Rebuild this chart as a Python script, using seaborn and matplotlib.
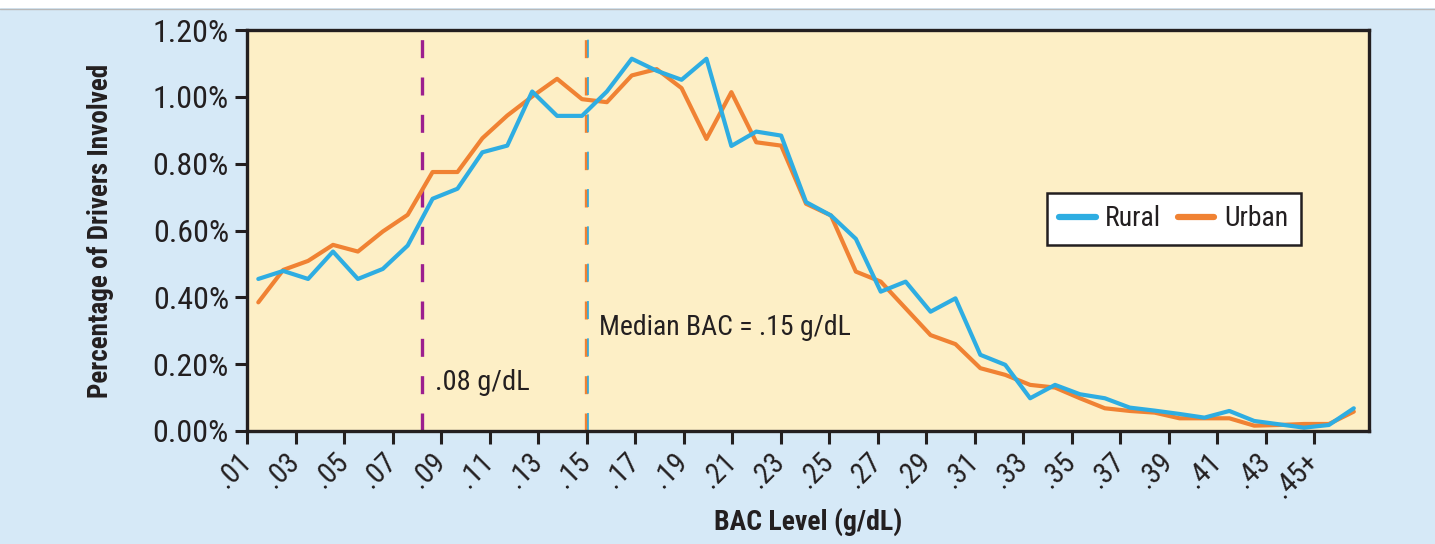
import numpy as np
import pandas as pd
import matplotlib
matplotlib.use("Agg")
import matplotlib.pyplot as plt
from matplotlib.patches import Rectangle
from matplotlib.lines import Line2D
from matplotlib.transforms import ScaledTranslation
from matplotlib import font_manager
import seaborn as sns

# ---- data (percent of drivers involved, by BAC level category) ----
bac_levels = [".01", ".02", ".03", ".04", ".05", ".06", ".07", ".08", ".09", ".10",
              ".11", ".12", ".13", ".14", ".15", ".16", ".17", ".18", ".19", ".20",
              ".21", ".22", ".23", ".24", ".25", ".26", ".27", ".28", ".29", ".30",
              ".31", ".32", ".33", ".34", ".35", ".36", ".37", ".38", ".39", ".40",
              ".41", ".42", ".43", ".44", ".45+"]
rural = [0.455, 0.479, 0.455, 0.537, 0.455, 0.485, 0.555, 0.695, 0.725, 0.834,
         0.854, 1.016, 0.943, 0.943, 1.016, 1.114, 1.078, 1.051, 1.114, 0.853,
         0.896, 0.884, 0.685, 0.645, 0.575, 0.417, 0.447, 0.357, 0.397, 0.228,
         0.198, 0.098, 0.138, 0.110, 0.098, 0.070, 0.061, 0.051, 0.040, 0.060,
         0.030, 0.020, 0.010, 0.018, 0.068]
urban = [0.385, 0.482, 0.509, 0.557, 0.537, 0.597, 0.647, 0.775, 0.775, 0.876,
         0.944, 1.001, 1.054, 0.993, 0.984, 1.064, 1.083, 1.026, 0.874, 1.014,
         0.864, 0.854, 0.680, 0.645, 0.477, 0.447, 0.367, 0.287, 0.260, 0.188,
         0.168, 0.138, 0.130, 0.098, 0.068, 0.060, 0.055, 0.038, 0.038, 0.038,
         0.016, 0.018, 0.021, 0.021, 0.058]
tick_labels = [".01", ".03", ".05", ".07", ".09", ".11", ".13", ".15", ".17", ".19",
               ".21", ".23", ".25", ".27", ".29", ".31", ".33", ".35", ".37", ".39",
               ".41", ".43", ".45+"]
y_ticks = [0.0, 0.2, 0.4, 0.6, 0.8, 1.0, 1.2]
legal_limit = 0.08
median_bac = 0.15

# ---- styling ----
FIG_BG = "#d6e9f7"
PLOT_BG = "#fdefc6"
C_RURAL = "#2eade2"
C_URBAN = "#f08233"
C_LIMIT = "#9c1f8f"
TXT = "#231f20"

sns.set_theme(style="white")
installed = {f.name for f in font_manager.fontManager.ttflist}
chain = [f for f in ["Liberation Sans Narrow", "DejaVu Sans Condensed",
                     "Roboto Condensed", "Liberation Sans"] if f in installed]
narrow = chain[0] if chain else "DejaVu Sans"
plt.rcParams["font.family"] = [narrow, "DejaVu Sans"]

df = pd.DataFrame({
    "idx": list(range(len(bac_levels))) * 2,
    "BAC": bac_levels * 2,
    "pct": rural + urban,
    "Area": ["Rural"] * len(rural) + ["Urban"] * len(urban),
})

fig = plt.figure(figsize=(14.35, 5.44), dpi=100, facecolor=FIG_BG)
ax = fig.add_axes([247 / 1435, 1 - 431 / 544, 1122 / 1435, 401 / 544])
ax.set_facecolor(PLOT_BG)

# white strip at top (cropped title area)
fig.patches.append(Rectangle((0, 1 - 8 / 544), 1, 8 / 544, transform=fig.transFigure,
                             facecolor="white", edgecolor="none", zorder=0))
fig.add_artist(Line2D([0, 1], [1 - 8.5 / 544] * 2, transform=fig.transFigure,
                      color="#b8b8b8", lw=1))

sns.lineplot(data=df, x="idx", y="pct", hue="Area",
             palette={"Rural": C_RURAL, "Urban": C_URBAN},
             hue_order=["Urban", "Rural"], lw=3.0, ax=ax, legend=False)

# x scale: category index; tick marks are evenly spaced over the frame
x_left, x_right = -0.454, 44.61
tick_step = 1.948
ax.set_xlim(x_left, x_right)
tick_pos = x_left + tick_step * np.arange(len(tick_labels))
ax.set_xticks(tick_pos)
ax.set_xticklabels(tick_labels, rotation=45, ha="right", va="center",
                   rotation_mode="anchor", fontsize=21, color=TXT)
for lab in ax.get_xticklabels():
    lab.set_transform(lab.get_transform() + ScaledTranslation(23 / 100, 0, fig.dpi_scale_trans))


def bac_to_x(v):
    return x_left + (v - 0.01) / 0.02 * tick_step


ax.set_ylim(0, 1.2)
ax.set_yticks(y_ticks)
ax.set_yticklabels([f"{v:.2f}%" for v in y_ticks], fontsize=23, color=TXT)

# reference lines
xl = bac_to_x(legal_limit) + 0.2
ax.axvline(xl, color=C_LIMIT, lw=2.4, dashes=(5.4, 5.8), zorder=1)
xm = bac_to_x(median_bac)
ax.axvline(xm - 0.03, color=C_URBAN, lw=2.4, dashes=(5.4, 5.8), zorder=1)
ax.axvline(xm + 0.06, color=C_RURAL, lw=1.2, dashes=(10.8, 11.6), zorder=1)

ax.text(xl + 0.55, 0.144, ".08 g/dL", fontsize=20.5, color=TXT, va="center", ha="left")
ax.text(xm + 0.5, 0.311, "Median BAC = .15 g/dL", fontsize=20, color=TXT,
        va="center", ha="left")

for s in ax.spines.values():
    s.set_visible(True)
    s.set_color("#231f20")
    s.set_linewidth(2.4)
ax.tick_params(axis="both", direction="out", length=9, width=2.2, color="#231f20",
               left=True, bottom=True)
ax.tick_params(axis="x", pad=10)
ax.tick_params(axis="y", pad=4)

ax.set_xlabel("BAC Level (g/dL)", fontsize=20, fontweight="bold", color=TXT,
              labelpad=3)
ax.set_ylabel("Percentage of Drivers Involved", fontsize=19.5, fontweight="bold",
              color=TXT, labelpad=28)

# legend
handles = [Line2D([], [], color=C_RURAL, lw=4.5, solid_capstyle="round"),
           Line2D([], [], color=C_URBAN, lw=4.5, solid_capstyle="round")]
leg = ax.legend(handles, ["Rural", "Urban"], loc="center",
                bbox_to_anchor=(0.826, 0.529), ncol=2, fontsize=20,
                frameon=True, fancybox=False, framealpha=1, handlelength=1.3,
                handletextpad=0.35, columnspacing=0.6, borderpad=0.45,
                borderaxespad=0)
leg.get_frame().set_edgecolor("#231f20")
leg.get_frame().set_linewidth(1.8)
for t in leg.get_texts():
    t.set_color(TXT)

fig.savefig("out.png", dpi=100, facecolor=FIG_BG)
